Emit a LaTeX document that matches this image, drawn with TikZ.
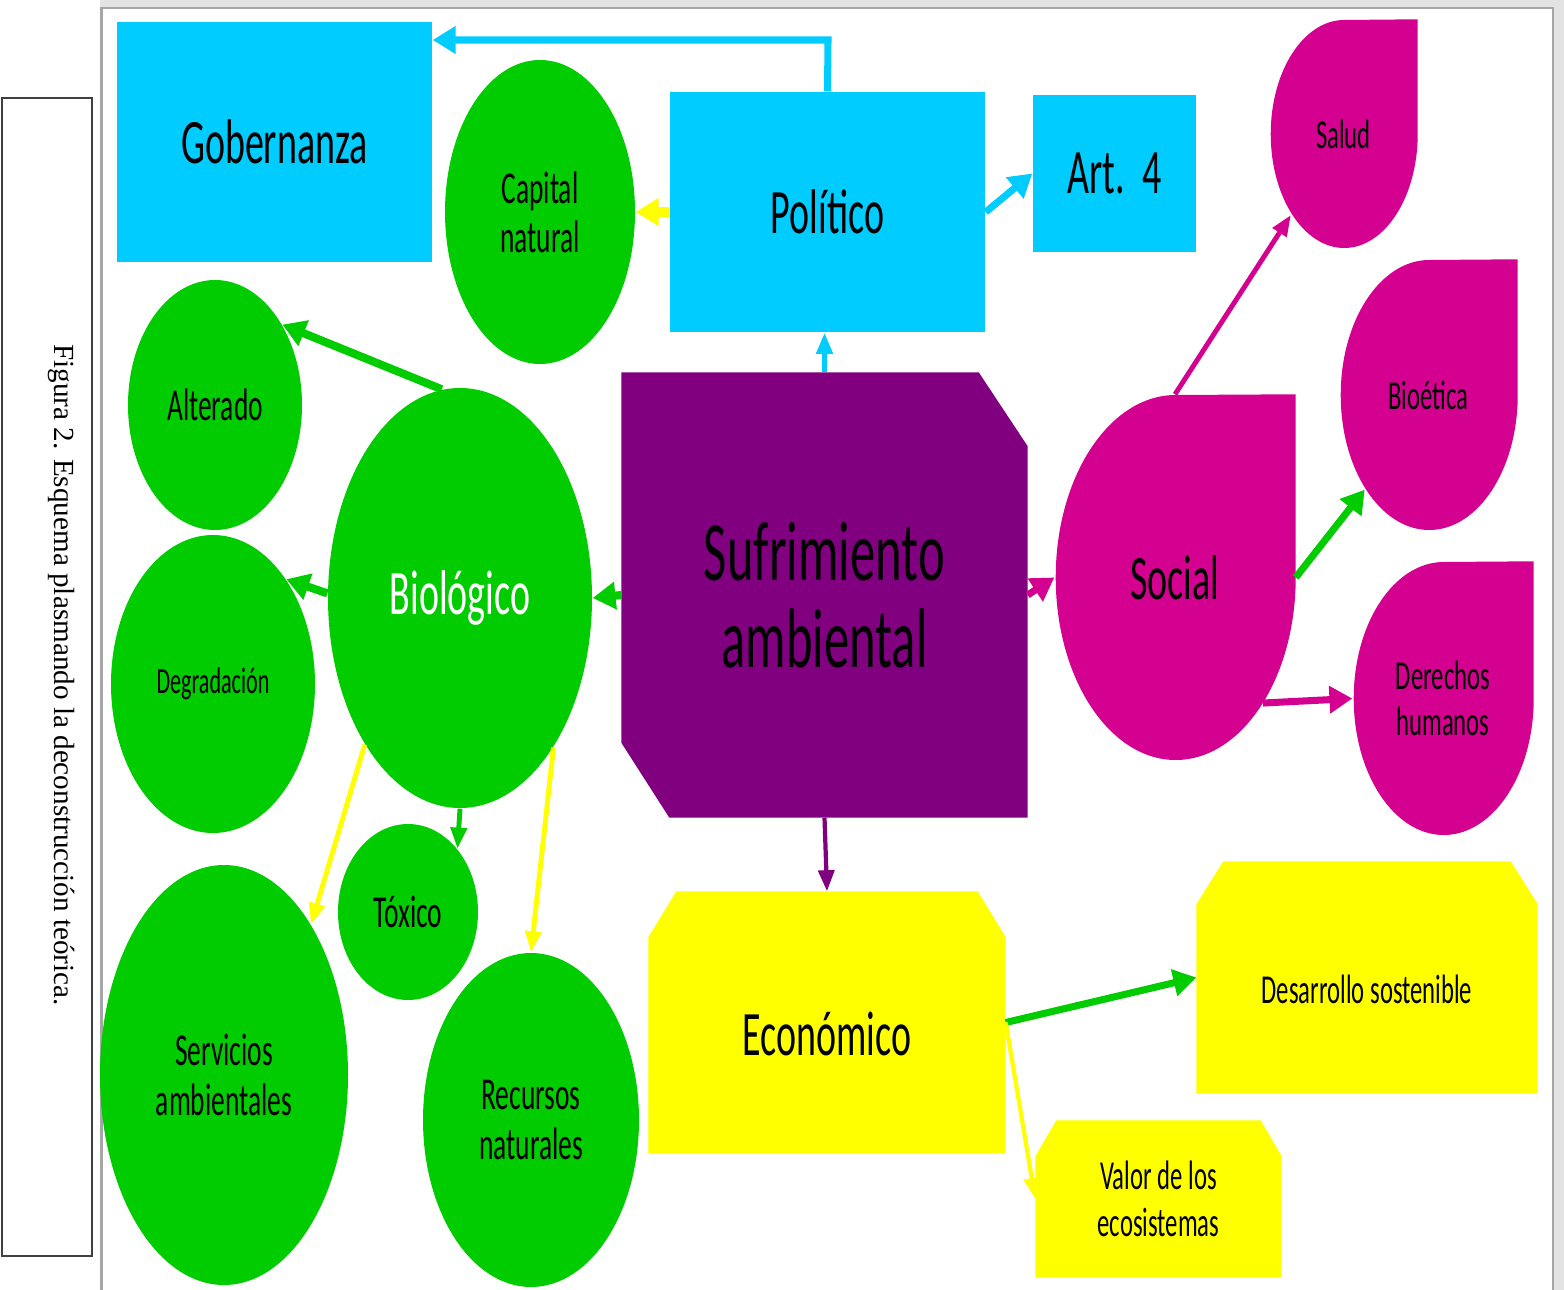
\documentclass[tikz,border=0pt]{standalone}
\usepackage{fontspec}
\newfontfamily\calib[FakeStretch=0.6]{Carlito}
\newfontfamily\tnr{Liberation Serif}
\usepackage{tikz}
\usetikzlibrary{positioning}
\usetikzlibrary{calc}
\usetikzlibrary{shapes.geometric}
\usetikzlibrary{arrows.meta}
\usetikzlibrary{backgrounds}
\usepackage{xcolor}
\definecolor{celeste}{HTML}{00CCFF}
\definecolor{verde}{HTML}{00CC00}
\definecolor{rosa}{HTML}{D4008F}
\definecolor{morado}{HTML}{800080}
\definecolor{amarillo}{HTML}{FFFF00}

\tikzset{
  caja/.style={rectangle, fill=celeste, inner sep=0pt},
  bola/.style={ellipse, fill=verde, inner sep=0pt, align=center},
  gota/.style={ellipse, inner sep=0pt, align=center},
  recorte/.style={rectangle, inner sep=0pt, align=center},
  grande/.style={font=\calib\fontsize{18}{20}\selectfont},
  medio/.style={font=\calib\fontsize{13}{14}\selectfont},
  menor/.style={font=\calib\fontsize{11.7}{13.2}\selectfont},
  chico/.style={font=\calib\fontsize{10.5}{12}\selectfont},
  baja/.style={text height=#1, text depth=0pt},
  flecha/.style={line width=#1, -{Triangle[length=6.5pt,width=7.5pt]}},
  flechita/.style={line width=#1, -{Triangle[length=6pt,width=4.5pt]}},
}

\begin{document}
\begin{tikzpicture}[x=0.1mm,y=-0.1mm]
    \useasboundingbox (0,0) rectangle (1564,1290);
    % marco de la pagina
    \begin{scope}[on background layer]
      \fill[gray!22] (100,0) rectangle (1564,1290);
      \fill[white] (103,9) rectangle (1552,1290);
      \draw[gray!70, line width=0.6pt] (101.5,1290) -- (101.5,8) -- (1553,8) -- (1553,1290);
    \end{scope}

    % pie de figura
    \node[draw=black!75, line width=0.7pt, minimum width=9mm, minimum height=115.8mm] (pie) at (47,677) {};
    \node[rotate=-90, font=\tnr\fontsize{8.3}{10}\selectfont] (piet) at (61,675)
      {Figura 2. Esquema plasmando la deconstrucción teórica.};

    % politico
    \node[caja, grande, minimum width=31.5mm, minimum height=24mm] (gob) at (274.5,142) {Gobernanza};
    \node[caja, grande, minimum width=31.5mm, minimum height=24mm] (pol) at (827.5,212) {Político};
    \node[caja, grande, minimum width=16.3mm, minimum height=15.7mm] (art) at (1114.5,173.5) {Art.~\ 4};

    % biologico
    \node[bola, medio, minimum width=19mm, minimum height=30.4mm] (cap) at (540,212) {Capital\\natural};
    \node[bola, medio, minimum width=17.4mm, minimum height=25mm] (alt) at (215,405) {Alterado};
    \node[bola, chico, minimum width=20.4mm, minimum height=29.8mm] (deg) at (213,684) {Degradación};
    \node[bola, grande, text=white, minimum width=26.4mm, minimum height=42mm] (bio) at (460,598) {Biológico};
    \node[bola, medio, minimum width=14mm, minimum height=17.6mm] (tox) at (408,912) {Tóxico};
    \node[bola, medio, minimum width=24.8mm, minimum height=42mm] (ser) at (224,1075) {Servicios\\ambientales};
    \node[bola, medio, minimum width=21.6mm, minimum height=33.4mm] (rec) at (531,1120) {Recursos\\naturales};

    % social
    \node[gota, menor, minimum width=14.7mm, minimum height=22.8mm] (sal) at (1343.5,134) {Salud};
    \node[gota, menor, minimum width=17.7mm, minimum height=27mm] (bioe) at (1428.5,395) {Bioética};
    \node[gota, menor, minimum width=18mm, minimum height=27.3mm] (der) at (1443,698.5) {Derechos\\humanos};
    \node[gota, grande, minimum width=24mm, minimum height=36.5mm] (soc) at (1175,577.5) {Social};

    % centro y economico
    \node[recorte, font=\calib\fontsize{24}{24.8}\selectfont, minimum width=40.5mm, minimum height=44.4mm] (suf) at (824.5,595) {Sufrimiento\\ambiental};
    \node[recorte, grande, baja=18.5pt, minimum width=35.6mm, minimum height=26.1mm] (eco) at (827,1022.5) {Económico};
    \node[recorte, menor, baja=15pt, minimum width=34mm, minimum height=23.1mm] (des) at (1367,977.5) {Desarrollo sostenible};
    \node[recorte, menor, minimum width=24.5mm, minimum height=15.6mm] (val) at (1158.5,1199) {Valor de los\\ecosistemas};

    \begin{scope}[on background layer]
      \fill[morado] (suf.north west) -- ($(suf.north east)+(-49,0)$) -- ($(suf.north east)+(0,74)$)
        -- (suf.south east) -- ($(suf.south west)+(48,0)$) -- ($(suf.south west)+(0,-75)$) -- cycle;
      \foreach \n/\a/\b in {eco/28/46, des/27/43, val/21/36} {
        \fill[amarillo] ($(\n.north west)+(\a,0)$) -- ($(\n.north east)+(-\a,0)$) -- ($(\n.north east)+(0,\b)$)
          -- (\n.south east) -- (\n.south west) -- ($(\n.north west)+(0,\b)$) -- cycle;
      }
      \foreach \n/\rx/\ry in {sal/73.5/114, bioe/88.5/135, der/90/136.5, soc/120/182.5} {
        \fill[rosa] (\n.east) arc[start angle=0, end angle=270, x radius=\rx, y radius=\ry]
          -- (\n.north -| \n.east) -- cycle;
      }
    \end{scope}

    % conectores
    \coordinate (codo) at (828,40);
    \draw[celeste, flecha=2pt] (pol.north) -- (codo) -- (codo -| gob.east);
    \draw[amarillo, flecha=2.8pt] (pol.west) -- (cap.east);
    \draw[celeste, flecha=2pt] (pol.east) -- (art.west);
    \draw[celeste, flechita=1.4pt] (suf.north) -- (suf.north |- pol.south);
    \draw[verde, flecha=2.3pt] (bio.95) -- (alt.50);
    \draw[verde, flecha=2.3pt] (bio.178) -- (deg.55);
    \draw[verde, flecha=2.3pt] (suf.west) -- (bio.east);
    \draw[verde, flechita=1.4pt] (bio.south) -- (tox.52);
    \draw[amarillo, flechita=1.4pt] (bio.237) -- (ser.60);
    \draw[amarillo, flechita=1.4pt] (bio.-58) -- (rec.north);
    \draw[rosa, flecha=2pt] (suf.east) -- (soc.west);
    \draw[rosa, flechita=1.4pt] (soc.north) -- (sal.237);
    \draw[verde, flecha=2pt] (soc.east) -- (bioe.236);
    \draw[rosa, flecha=2pt] (soc.-55) -- (der.west);
    \draw[morado, flechita=1.2pt] (suf.south) -- (eco.north);
    \draw[verde, flecha=2pt] (eco.east) -- (des.west);
    \draw[amarillo, flechita=1.2pt] (eco.east) -- (val.west);
\end{tikzpicture}
\end{document}
